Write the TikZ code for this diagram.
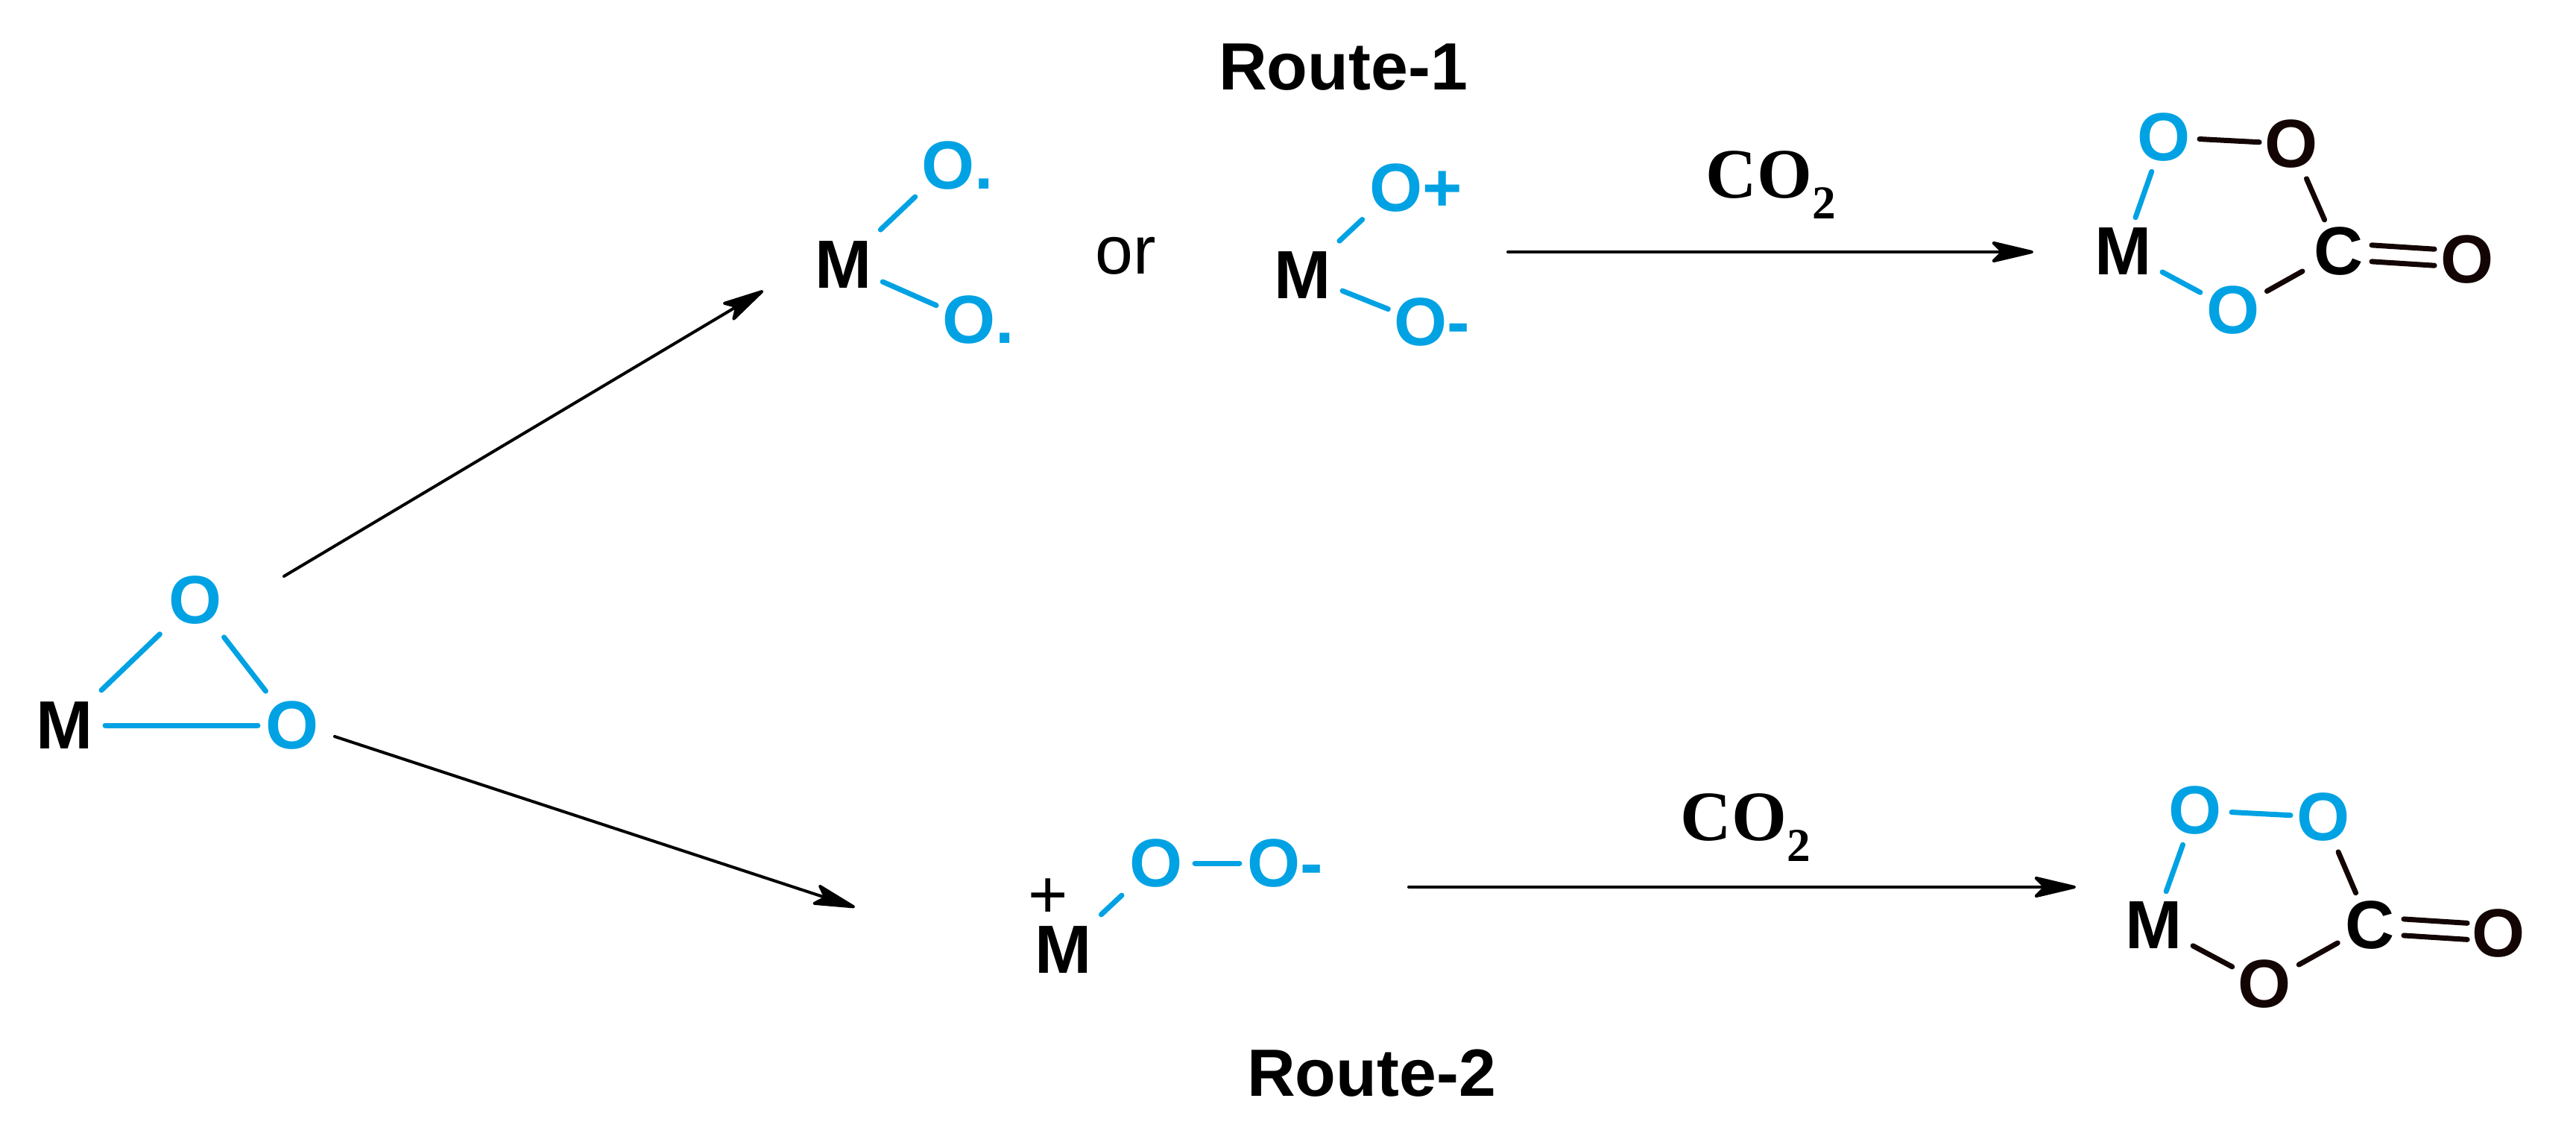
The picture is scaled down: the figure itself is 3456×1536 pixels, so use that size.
\documentclass[tikz,border=0pt]{standalone}
\usepackage{fontspec}
\setmainfont{Liberation Sans}
\newfontfamily\serifbold[BoldFont={Liberation Serif Bold}]{Liberation Serif}
\usepackage{tikz}
\usetikzlibrary{arrows.meta}
\definecolor{oxblue}{HTML}{00A2E3}
\definecolor{bondblack}{HTML}{140505}
\tikzset{>={Stealth[length=0.66cm,width=0.31cm,inset=0.15cm,round]}}
\tikzset{
    atom/.style={inner sep=0pt,font=\fontsize{26}{26}\selectfont\bfseries},
    oxatom/.style={atom,text=oxblue},
    bond/.style={line width=0.07cm,line cap=round,color=oxblue},
    darkbond/.style={bond,color=bondblack},
    gap/.style 2 args={shorten <=#1cm,shorten >=#2cm},
    reaction/.style={->,line width=0.04cm,line cap=round,black},
    title/.style={inner sep=0pt,anchor=base,font=\fontsize{25.5}{25.5}\selectfont\bfseries},
    charge/.style={inner sep=0pt,font=\fontsize{26}{26}\selectfont},
    reagent/.style={inner sep=0pt,anchor=base west,font=\fontsize{27}{27}\serifbold\bfseries}
}
\newcommand{\cotwo}{CO\raisebox{-0.28cm}{\fontsize{18}{18}\selectfont 2}}
\begin{document}
\begin{tikzpicture}[x=0.01cm,y=-0.01cm]
    \useasboundingbox (0,0) rectangle (3456,1536);
    % start
    \node[atom] at (87,973) (m0) {M};
    \node[oxatom] at (262,805) (o0a) {O};
    \node[oxatom] at (392,973) (o0b) {O};
    \draw[bond,gap={0.68}{0.66}] (m0.center) -- (o0a.center);
    \draw[bond,gap={0.63}{0.58}] (o0a.center) -- (o0b.center);
    \draw[bond,gap={0.54}{0.46}] (m0.center) -- (o0b.center);
    % route 1, intermediates
    \node[title] at (1802,120) (route1) {Route-1};
    \node[atom] at (1132,355) (m1) {M};
    \node[oxatom] at (1272,222) (o1a) {O\rlap{.}};
    \node[oxatom] at (1300,429) (o1b) {O\rlap{.}};
    \node[inner sep=0pt,font=\fontsize{26}{26}\selectfont] at (1510,343) (or1) {or};
    \node[atom] at (1748,369) (m2) {M};
    \node[oxatom] at (1873,252) (o2a) {O\rlap{+}};
    \node[oxatom] at (1906,432) (o2b) {O\rlap{-}};
    \draw[bond,gap={0.68}{0.61}] (m1.center) -- (o1a.center);
    \draw[bond,gap={0.57}{0.48}] (m1.center) -- (o1b.center);
    \draw[bond,gap={0.67}{0.62}] (m2.center) -- (o2a.center);
    \draw[bond,gap={0.57}{0.47}] (m2.center) -- (o2b.center);
    % route 1, product
    \node[atom] at (2849,337) (m3) {M};
    \node[oxatom] at (2903,184) (o3a) {O};
    \node[atom,text=bondblack] at (3074,193) (o3b) {O};
    \node[atom] at (3137,337) (c3) {C};
    \node[oxatom] at (2996,416) (o3c) {O};
    \node[atom,text=bondblack] at (3310,348) (o3d) {O};
    \draw[bond,gap={0.48}{0.49}] (m3.center) -- (o3a.center);
    \draw[darkbond,gap={0.48}{0.43}] (o3a.center) -- (o3b.center);
    \draw[darkbond,gap={0.51}{0.46}] (o3b.center) -- (c3.center);
    \draw[bond,gap={0.59}{0.50}] (m3.center) -- (o3c.center);
    \draw[darkbond,gap={0.52}{0.55}] (o3c.center) -- (c3.center);
    \draw[darkbond,transform canvas={yshift=0.11cm},gap={0.45}{0.44}] (c3.center) -- (o3d.center);
    \draw[darkbond,transform canvas={yshift=-0.11cm},gap={0.45}{0.44}] (c3.center) -- (o3d.center);
    % route 2, intermediate
    \node[title] at (1840,1470) (route2) {Route-2};
    \node[charge] at (1406,1205) (plus4) {+};
    \node[atom] at (1427,1274) (m4) {M};
    \node[oxatom] at (1551,1158) (o4a) {O};
    \node[oxatom] at (1709,1158) (o4b) {O\rlap{-}};
    \draw[bond,gap={0.69}{0.63}] (m4.center) -- (o4a.center);
    \draw[bond,gap={0.52}{0.46}] (o4a.center) -- (o4b.center);
    % route 2, product
    \node[atom] at (2890,1241) (m5) {M};
    \node[oxatom] at (2945,1087) (o5a) {O};
    \node[oxatom] at (3117,1096) (o5b) {O};
    \node[atom] at (3179,1241) (c5) {C};
    \node[atom,text=bondblack] at (3038,1320) (o5c) {O};
    \node[atom,text=bondblack] at (3352,1252) (o5d) {O};
    \draw[bond,gap={0.48}{0.49}] (m5.center) -- (o5a.center);
    \draw[bond,gap={0.49}{0.44}] (o5a.center) -- (o5b.center);
    \draw[darkbond,gap={0.51}{0.47}] (o5b.center) -- (c5.center);
    \draw[darkbond,gap={0.59}{0.49}] (m5.center) -- (o5c.center);
    \draw[darkbond,gap={0.53}{0.49}] (o5c.center) -- (c5.center);
    \draw[darkbond,transform canvas={yshift=0.11cm},gap={0.46}{0.42}] (c5.center) -- (o5d.center);
    \draw[darkbond,transform canvas={yshift=-0.11cm},gap={0.46}{0.42}] (c5.center) -- (o5d.center);
    % arrows
    \coordinate (a1s) at (381,773);
    \coordinate (a1e) at (1024,390);
    \coordinate (a2s) at (449,988);
    \coordinate (a2e) at (1147,1217);
    \coordinate (a3s) at (2023,338);
    \coordinate (a3e) at (2728,338);
    \coordinate (a4s) at (1890,1190);
    \coordinate (a4e) at (2785,1190);
    \draw[reaction] (a1s) -- (a1e);
    \draw[reaction] (a2s) -- (a2e);
    \draw[reaction] (a3s) -- (a3e);
    \draw[reaction] (a4s) -- (a4e);
    \node[reagent] at (2288,265) (co1) {\cotwo};
    \node[reagent] at (2254,1127) (co2) {\cotwo};
\end{tikzpicture}
\end{document}
